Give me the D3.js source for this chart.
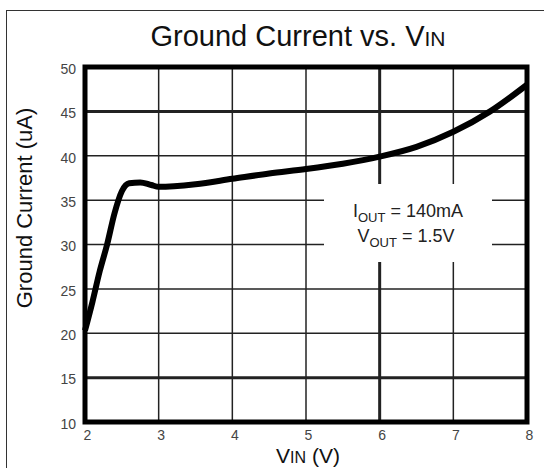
<!DOCTYPE html>
<html>
<head>
<meta charset="utf-8">
<script src="https://cdn.jsdelivr.net/npm/d3@7"></script>
<style>
  body { margin: 0; background: #fff; }
  svg { display: block; font-family: "Liberation Sans", Arial, sans-serif; }
</style>
</head>
<body>
<svg width="544" height="468"></svg>
<script>
// data
const vin = [2.0, 2.1, 2.2, 2.3, 2.4, 2.5, 2.6, 2.75, 2.9, 3.0, 3.5, 4.0, 4.5, 5.0, 5.5, 6.0, 6.5, 7.0, 7.5, 8.0];
const ignd = [20.3, 23.5, 27.0, 30.0, 33.5, 36.0, 36.9, 37.0, 36.7, 36.5, 36.8, 37.4, 38.0, 38.5, 39.1, 39.9, 41.0, 42.7, 45.0, 48.0];

const xTicks = [2, 3, 4, 5, 6, 7, 8];
const yTicks = [10, 15, 20, 25, 30, 35, 40, 45, 50];
const thickX = [6];
const thickY = [15, 45];

const svg = d3.select("svg");

const pL = 85, pR = 527, pT = 67, pB = 422;

const x = d3.scaleLinear().domain([2, 8]).range([pL, pR]);
const y = d3.scaleLinear().domain([10, 50]).range([pB, pT]);

// outer frame
svg.append("rect")
    .attr("x", 6.5).attr("y", 10.5)
    .attr("width", 560).attr("height", 480)
    .attr("fill", "none")
    .attr("stroke", "#333")
    .attr("stroke-width", 1);

// title
const title = svg.append("text")
    .attr("x", 298).attr("y", 46)
    .attr("text-anchor", "middle")
    .attr("font-size", 29)
    .attr("fill", "#111");
title.append("tspan").text("Ground Current vs. V");
title.append("tspan").attr("font-size", 21).text("IN");

// grid
svg.append("g")
    .selectAll("line")
    .data(xTicks.slice(1, -1))
    .enter()
    .append("line")
    .attr("x1", d => x(d)).attr("x2", d => x(d))
    .attr("y1", pT).attr("y2", pB)
    .attr("stroke", "#222")
    .attr("stroke-width", d => thickX.includes(d) ? 3 : 1.5);

svg.append("g")
    .selectAll("line")
    .data(yTicks.slice(1, -1))
    .enter()
    .append("line")
    .attr("x1", pL).attr("x2", pR)
    .attr("y1", d => y(d)).attr("y2", d => y(d))
    .attr("stroke", "#222")
    .attr("stroke-width", d => thickY.includes(d) ? 3 : 1.5);

// axes (labels only)
const xAxis = svg.append("g")
    .attr("transform", `translate(0,${pB})`)
    .call(d3.axisBottom(x).tickValues(xTicks).tickFormat(d3.format("d")).tickSize(0).tickPadding(8));
xAxis.select(".domain").remove();
xAxis.selectAll("text")
    .attr("font-size", 14)
    .attr("font-family", "Liberation Sans, Arial, sans-serif")
    .attr("fill", "#444")
    .attr("dx", 2);

const yAxis = svg.append("g")
    .attr("transform", `translate(${pL},0)`)
    .call(d3.axisLeft(y).tickValues(yTicks).tickSize(0).tickPadding(9));
yAxis.select(".domain").remove();
yAxis.selectAll("text")
    .attr("font-size", 14)
    .attr("font-family", "Liberation Sans, Arial, sans-serif")
    .attr("fill", "#444")
    .attr("dy", "0.45em");

// annotation box, white background over the grid
svg.append("rect")
    .attr("x", 324).attr("y", 184)
    .attr("width", 168).attr("height", 78)
    .attr("fill", "#fff");

const ann1 = svg.append("text")
    .attr("x", 408).attr("y", 217)
    .attr("text-anchor", "middle")
    .attr("font-size", 18)
    .attr("fill", "#222");
ann1.append("tspan").text("I");
ann1.append("tspan").attr("font-size", 13).attr("dy", 5).text("OUT");
ann1.append("tspan").attr("dy", -5).text(" = 140mA");

const ann2 = svg.append("text")
    .attr("x", 406).attr("y", 242)
    .attr("text-anchor", "middle")
    .attr("font-size", 18)
    .attr("fill", "#222");
ann2.append("tspan").text("V");
ann2.append("tspan").attr("font-size", 13).attr("dy", 5).text("OUT");
ann2.append("tspan").attr("dy", -5).text(" = 1.5V");

// curve
const line = d3.line()
    .x(d => x(d[0]))
    .y(d => y(d[1]))
    .curve(d3.curveMonotoneX);

svg.append("path")
    .datum(d3.zip(vin, ignd))
    .attr("d", line)
    .attr("fill", "none")
    .attr("stroke", "#000")
    .attr("stroke-width", 6)
    .attr("stroke-linejoin", "round");

// plot frame
svg.append("rect")
    .attr("x", pL).attr("y", pT)
    .attr("width", pR - pL).attr("height", pB - pT)
    .attr("fill", "none")
    .attr("stroke", "#000")
    .attr("stroke-width", 5);

// axis titles
const xt = svg.append("text")
    .attr("x", 308).attr("y", 463)
    .attr("text-anchor", "middle")
    .attr("font-size", 21)
    .attr("fill", "#111");
xt.append("tspan").text("V");
xt.append("tspan").attr("font-size", 16).text("IN");
xt.append("tspan").text(" (V)");

svg.append("text")
    .attr("transform", "translate(32,208) rotate(-90)")
    .attr("text-anchor", "middle")
    .attr("font-size", 22)
    .attr("fill", "#111")
    .text("Ground Current (uA)");
</script>
</body>
</html>
